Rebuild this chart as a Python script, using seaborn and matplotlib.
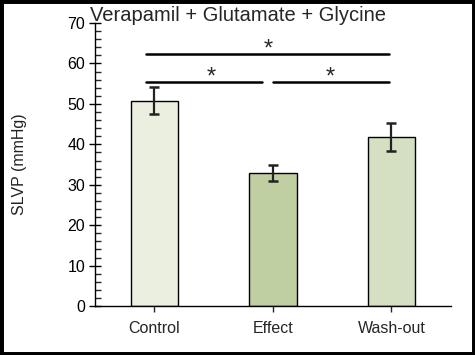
import numpy as np
import pandas as pd
import matplotlib
matplotlib.use('Agg')
import matplotlib.pyplot as plt
import seaborn as sns
from matplotlib.ticker import MultipleLocator
from matplotlib.patches import Rectangle

conditions = ['Control', 'Effect', 'Wash-out']
means = [50.8, 32.9, 41.8]
sems = [3.3, 2.0, 3.4]
bar_colors = ['#EBF1DE', '#C3D69B', '#D7E4BC']

# significance lines: x start, x end, height, star x
sig_lines = [(-0.07, 1.98, 62.4, 0.96),
             (-0.07, 0.91, 55.4, 0.48),
             (1.0, 1.98, 55.4, 1.48)]

df = pd.DataFrame({'cond': conditions, 'val': means})

sns.set_style('white')
plt.rcParams['font.family'] = ['Liberation Sans', 'DejaVu Sans']

fig = plt.figure(figsize=(4.75, 3.55), dpi=100)
ax = fig.add_axes([0.2, 0.138, 0.749, 0.797])

sns.barplot(data=df, x='cond', y='val', hue='cond', palette=bar_colors,
            width=0.4, edgecolor='black', linewidth=1, legend=False, ax=ax)
ax.errorbar(range(len(conditions)), means, yerr=sems, fmt='none',
            ecolor='#222222', elinewidth=1.6, capsize=3.5, capthick=1.8)

for x0, x1, h, xs in sig_lines:
    ax.plot([x0, x1], [h, h], color='black', lw=1.8, clip_on=False)
    ax.text(xs, h - 0.4, '*', ha='center', va='baseline', fontsize=17)

ax.set_ylim(0, 70)
ax.set_xlim(-0.5, 2.5)
ax.yaxis.set_major_locator(MultipleLocator(10))
ax.yaxis.set_minor_locator(MultipleLocator(2))
ax.tick_params(axis='y', which='major', direction='inout', length=8, width=1,
               left=True, labelsize=11.5, colors='black', pad=3)
ax.tick_params(axis='y', which='minor', direction='in', length=4, width=1, left=True)
ax.tick_params(axis='x', direction='out', length=4, width=1, bottom=True,
               labelsize=11.5, pad=7)
for s in ['top', 'right']:
    ax.spines[s].set_visible(False)
for s in ['left', 'bottom']:
    ax.spines[s].set_color('black')
    ax.spines[s].set_linewidth(1)

ax.set_xlabel('')
ax.set_ylabel('SLVP (mmHg)', fontsize=11.5, labelpad=29, color='#222222')
fig.text(0.19, 0.955, 'Verapamil + Glutamate + Glycine', fontsize=14.5, va='center')

fig.patches.append(Rectangle((0, 0), 1, 1, transform=fig.transFigure, fill=False,
                             edgecolor='black', linewidth=5))

fig.savefig('out.png', dpi=100, facecolor='white')
